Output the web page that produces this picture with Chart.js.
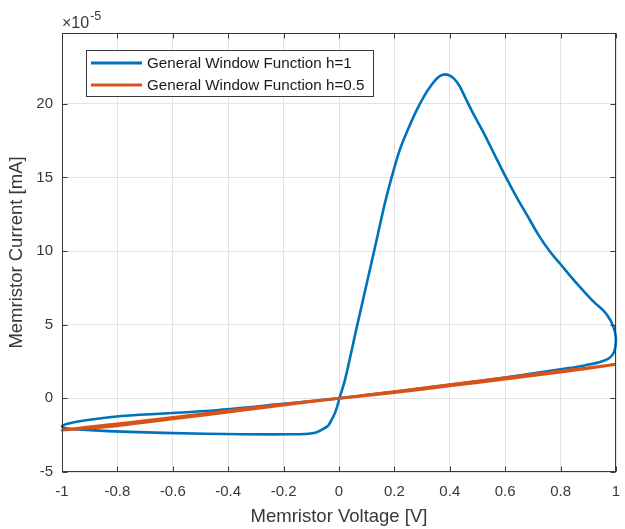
<!DOCTYPE html>
<html>
<head>
<meta charset="utf-8">
<script src="https://cdn.jsdelivr.net/npm/chart.js@4"></script>
<style>
  html, body { margin: 0; padding: 0; background: #fff; }
  #wrap { width: 625px; height: 529px; }
</style>
</head>
<body>
<div id="wrap"><canvas id="c" width="625" height="529"></canvas></div>
<script>
// Memristor I-V hysteresis loops (current in units of 1e-5 mA)
const seriesLabels = ['General Window Function h=1', 'General Window Function h=0.5'];

// h = 1 loop: voltage [V]
const h1Voltage = [
  -0.039, -0.014, 0.004, 0.022, 0.065, 0.105, 0.140, 0.165, 0.190, 0.220, 0.250, 0.280,
  0.310, 0.335, 0.355, 0.375, 0.395, 0.415, 0.435, 0.455, 0.480, 0.520, 0.560, 0.600,
  0.640, 0.680, 0.720, 0.760, 0.800, 0.840, 0.880, 0.920, 0.955, 0.980, 0.995, 1.000,
  0.993, 0.975, 0.940, 0.890, 0.830, 0.600, 0.400, 0.200, 0.000,
  -0.184, -0.484, -0.785, -0.920, -0.980, -1.000, -0.980, -0.905, -0.785, -0.484,
  -0.184, -0.087, -0.039
];
// h = 1 loop: current [1e-5 mA]
const h1Current = [
  -1.88, -0.97, 0.16, 1.29, 4.90, 8.20, 11.10, 13.20, 15.00, 16.90, 18.30, 19.55,
  20.60, 21.30, 21.75, 21.97, 21.95, 21.70, 21.20, 20.45, 19.50, 18.10, 16.60, 15.10,
  13.70, 12.40, 11.10, 10.00, 9.10, 8.20, 7.35, 6.55, 5.95, 5.30, 4.60, 3.90,
  3.15, 2.72, 2.45, 2.25, 2.05, 1.42, 0.92, 0.45, 0.00,
  -0.34, -0.86, -1.20, -1.50, -1.72, -1.90, -2.05, -2.15, -2.26, -2.40,
  -2.44, -2.33, -1.88
];

// h = 0.5 loop: voltage [V]
const h05Voltage = [
  0.0, 0.2, 0.4, 0.6, 0.8, 1.0, 0.8, 0.6, 0.4, 0.2, 0.0,
  -0.2, -0.4, -0.6, -0.8, -1.0, -0.8, -0.6, -0.4, -0.2, 0.0
];
// h = 0.5 loop: current [1e-5 mA]
const h05Current = [
  0.00, 0.46, 0.93, 1.40, 1.86, 2.30, 1.78, 1.30, 0.84, 0.39, 0.00,
  -0.39, -0.84, -1.30, -1.74, -2.15, -1.86, -1.40, -0.93, -0.46, 0.00
];

// Axis ticks
const xTickValues = [-1, -0.8, -0.6, -0.4, -0.2, 0, 0.2, 0.4, 0.6, 0.8, 1];
const xTickLabels = ['-1', '-0.8', '-0.6', '-0.4', '-0.2', '0', '0.2', '0.4', '0.6', '0.8', '1'];
const yTickValues = [-5, 0, 5, 10, 15, 20];
const yTickLabels = ['-5', '0', '5', '10', '15', '20'];

const BLUE = '#0072BD';
const ORANGE = '#D95319';
const AXIS = '#383838';
const FONT = "'Liberation Sans', Arial, Helvetica, sans-serif";

const toPoints = (xs, ys) => xs.map((x, i) => ({ x: x, y: ys[i] }));

// Box, inward ticks, exponent label and inset legend
const framePlugin = {
  id: 'frame',
  afterDraw(chart) {
    const { ctx, chartArea: a, scales } = chart;
    const xs = scales.x, ys = scales.y;
    ctx.save();
    ctx.strokeStyle = AXIS;
    ctx.lineWidth = 1;
    const L = Math.round(a.left) + 0.5, R = Math.round(a.right) - 0.5;
    const T = Math.round(a.top) + 0.5, B = Math.round(a.bottom) - 0.5;
    ctx.strokeRect(L, T, R - L, B - T);
    const tl = 5;
    ctx.beginPath();
    xTickValues.forEach(v => {
      const p = Math.round(xs.getPixelForValue(v)) + 0.5;
      ctx.moveTo(p, B); ctx.lineTo(p, B - tl);
      ctx.moveTo(p, T); ctx.lineTo(p, T + tl);
    });
    yTickValues.forEach(v => {
      const p = Math.round(ys.getPixelForValue(v)) + 0.5;
      ctx.moveTo(L, p); ctx.lineTo(L + tl, p);
      ctx.moveTo(R, p); ctx.lineTo(R - tl, p);
    });
    ctx.stroke();

    // exponent multiplier
    ctx.fillStyle = AXIS;
    ctx.textBaseline = 'alphabetic';
    ctx.textAlign = 'left';
    ctx.font = '16px ' + FONT;
    ctx.fillText('\u00d710', a.left, 28);
    const w = ctx.measureText('\u00d710').width;
    ctx.font = '12.5px ' + FONT;
    ctx.fillText('-5', a.left + w + 1, 20);

    // legend
    const lx = 86, ly = 50, lw = 287, lh = 46;
    ctx.fillStyle = '#ffffff';
    ctx.fillRect(lx, ly, lw, lh);
    ctx.strokeStyle = AXIS;
    ctx.strokeRect(lx + 0.5, ly + 0.5, lw, lh);
    const rows = [63, 85];
    chart.data.datasets.forEach((ds, i) => {
      ctx.strokeStyle = ds.borderColor;
      ctx.lineWidth = 3;
      ctx.beginPath();
      ctx.moveTo(91, rows[i]); ctx.lineTo(142, rows[i]);
      ctx.stroke();
      ctx.fillStyle = '#1a1a1a';
      ctx.font = '15.2px ' + FONT;
      ctx.textBaseline = 'middle';
      ctx.fillText(ds.label, 147, rows[i] + 1);
    });
    ctx.restore();
  }
};

const fixedTicks = (values) => (scale) => { scale.ticks = values.map(v => ({ value: v })); };
const noOverflow = (s) => { s.paddingLeft = 0; s.paddingRight = 0; s.paddingTop = 0; s.paddingBottom = 0; };

new Chart(document.getElementById('c'), {
  type: 'scatter',
  data: {
    datasets: [
      {
        label: seriesLabels[0],
        data: toPoints(h1Voltage, h1Current),
        borderColor: BLUE,
        backgroundColor: BLUE,
        borderWidth: 2.6,
        showLine: true,
        pointRadius: 0,
        tension: 0.35,
        clip: 6,
        order: 1
      },
      {
        label: seriesLabels[1],
        data: toPoints(h05Voltage, h05Current),
        borderColor: ORANGE,
        backgroundColor: ORANGE,
        borderWidth: 2.8,
        showLine: true,
        pointRadius: 0,
        tension: 0.2,
        clip: 6,
        order: 0
      }
    ]
  },
  options: {
    responsive: false,
    animation: false,
    events: [],
    layout: { padding: { top: 33, right: 9, bottom: 0, left: 0 } },
    plugins: {
      legend: { display: false },
      tooltip: { enabled: false }
    },
    scales: {
      x: {
        type: 'linear',
        min: -1,
        max: 1,
        afterBuildTicks: fixedTicks(xTickValues),
        afterFit: (s) => { s.height = 57; noOverflow(s); },
        grid: { color: '#e3e3e3', lineWidth: 1, drawTicks: false },
        border: { display: false },
        ticks: {
          padding: 11,
          color: AXIS,
          font: { family: FONT, size: 15 },
          maxRotation: 0,
          autoSkip: false,
          callback: (v, i) => xTickLabels[i]
        },
        title: {
          display: true,
          text: 'Memristor Voltage [V]',
          color: AXIS,
          font: { family: FONT, size: 18.5 },
          padding: { top: 0, bottom: 1 }
        }
      },
      y: {
        type: 'linear',
        min: -5,
        max: 24.8,
        afterBuildTicks: fixedTicks(yTickValues),
        afterFit: (s) => { s.width = 62; noOverflow(s); },
        grid: { color: '#e3e3e3', lineWidth: 1, drawTicks: false },
        border: { display: false },
        ticks: {
          padding: 9,
          color: AXIS,
          font: { family: FONT, size: 15 },
          autoSkip: false,
          callback: (v, i) => yTickLabels[i]
        },
        title: {
          display: true,
          text: 'Memristor Current [mA]',
          color: AXIS,
          font: { family: FONT, size: 18.5 },
          padding: { top: 6, bottom: 0 }
        }
      }
    }
  },
  plugins: [framePlugin]
});
</script>
</body>
</html>
